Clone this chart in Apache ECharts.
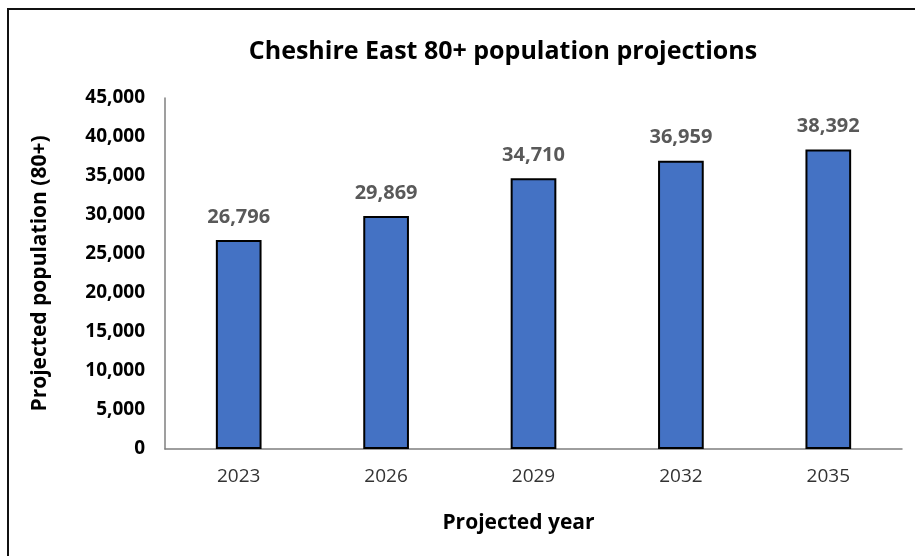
<!DOCTYPE html>
<html>
<head>
<meta charset="utf-8">
<script src="https://cdn.jsdelivr.net/npm/echarts@6/dist/echarts.min.js"></script>
<style>
html,body{margin:0;padding:0;background:#fff;}
#main{width:915px;height:556px;}
</style>
</head>
<body>
<div id="main"></div>
<script>
var categories = ['2023', '2026', '2029', '2032', '2035'];
var values = [26796, 29869, 34710, 36959, 38392];
var yMin = 0, yMax = 45000, yStep = 5000;

var chart = echarts.init(document.getElementById('main'));
var font = '"Open Sans", "Noto Sans", sans-serif';
chart.setOption({
  animation: false,
  backgroundColor: '#fff',
  graphic: [{
    type: 'rect',
    shape: { x: 8, y: 9, width: 930, height: 570 },
    style: { fill: 'none', stroke: '#111', lineWidth: 2 },
    silent: true
  }],
  title: {
    text: 'Cheshire East 80+ population projections',
    left: 498, top: 34, textAlign: 'center',
    textStyle: { fontFamily: font, fontWeight: 'bold', fontSize: 25, color: '#000' }
  },
  grid: { left: 165, right: 13, top: 98, bottom: 107, containLabel: false },
  xAxis: {
    type: 'category',
    data: categories,
    name: 'Projected year',
    nameLocation: 'middle',
    nameGap: 64,
    nameTextStyle: { fontFamily: font, fontWeight: 'bold', fontSize: 21, color: '#000', padding: [0, 30, 0, 0] },
    axisLine: { lineStyle: { color: '#7f7f7f', width: 1.5 } },
    axisTick: { show: false },
    axisLabel: { fontFamily: font, fontSize: 19, color: '#333', margin: 18 }
  },
  yAxis: {
    type: 'value',
    min: yMin, max: yMax, interval: yStep,
    name: 'Projected population (80+)',
    nameLocation: 'middle',
    nameGap: 114,
    nameTextStyle: { fontFamily: font, fontWeight: 'bold', fontSize: 21, color: '#000' },
    axisLine: { show: true, lineStyle: { color: '#7f7f7f', width: 1.5 } },
    axisTick: { show: false },
    splitLine: { show: false },
    axisLabel: {
      fontFamily: font, fontWeight: 'bold', fontSize: 19, color: '#000', margin: 20,
      formatter: function (v) { return v.toLocaleString('en-US'); }
    }
  },
  series: [{
    type: 'bar',
    data: values,
    barWidth: '31%',
    itemStyle: { color: '#4472C4', borderColor: '#000', borderWidth: 2 },
    label: {
      show: true, position: 'top', distance: 13,
      fontFamily: font, fontWeight: 'bold', fontSize: 20, color: '#595959',
      formatter: function (p) { return p.value.toLocaleString('en-US'); }
    }
  }]
});
</script>
</body>
</html>
